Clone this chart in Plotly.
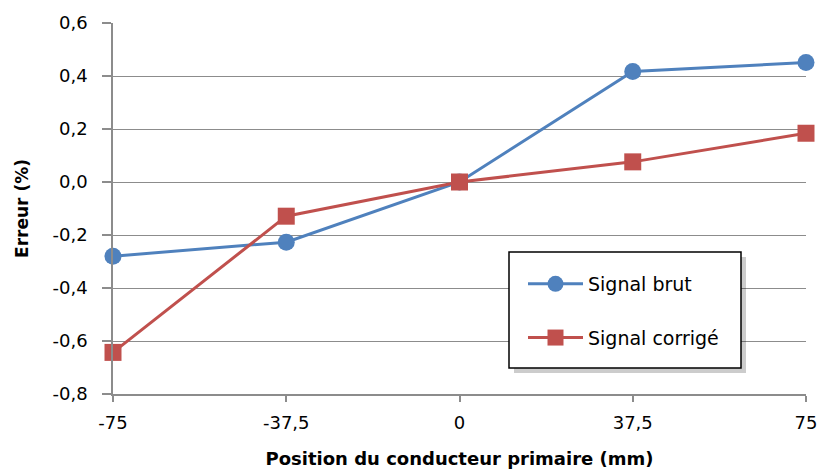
import plotly.graph_objects as go

positions = [-75, -37.5, 0, 37.5, 75]
x_tick_labels = ["-75", "-37,5", "0", "37,5", "75"]
signal_brut = [-0.28, -0.227, 0.0, 0.417, 0.451]
signal_corrige = [-0.643, -0.129, 0.0, 0.076, 0.184]
y_tick_vals = [-0.8, -0.6, -0.4, -0.2, 0.0, 0.2, 0.4, 0.6]
y_tick_labels = ["-0,8", "-0,6", "-0,4", "-0,2", "0,0", "0,2", "0,4", "0,6"]

FONT = "DejaVu Sans"
GRID = "#8C8C8C"

# plot area in page px: x 113..806, y 23..394 (body margin removed below)
PX0, PX1, PY0, PY1 = 113, 806, 23, 394


def px(sx):
    return (sx - PX0) / (PX1 - PX0)


def py(sy):
    return (PY1 - sy) / (PY1 - PY0)


fig = go.Figure()
fig.add_trace(go.Scatter(x=positions, y=signal_brut, mode="lines+markers", name="Signal brut",
                         line=dict(color="#4F81BD", width=3),
                         marker=dict(symbol="circle", size=17, color="#4F81BD"),
                         legendgroup="a", cliponaxis=False))
fig.add_trace(go.Scatter(x=positions, y=signal_corrige, mode="lines+markers", name="Signal corrigé",
                         line=dict(color="#C0504D", width=3),
                         marker=dict(symbol="square", size=17, color="#C0504D"),
                         legendgroup="b", cliponaxis=False))

# legend shadow and box
fig.add_shape(type="rect", xref="paper", yref="paper",
              x0=px(509 + 5), x1=px(741 + 5), y0=py(368 + 5), y1=py(252 + 5),
              fillcolor="rgba(0,0,0,0.2)", line=dict(width=0), layer="above")
fig.add_shape(type="rect", xref="paper", yref="paper",
              x0=px(509), x1=px(741), y0=py(368), y1=py(252),
              fillcolor="white", line=dict(color="#000000", width=1.5), layer="above")

fig.update_layout(
    width=819, height=470,
    margin=dict(l=PX0, r=819 - PX1, t=PY0, b=470 - PY1, autoexpand=False),
    paper_bgcolor="white", plot_bgcolor="white",
    font=dict(family=FONT, size=18, color="#000000"),
    showlegend=True,
    legend=dict(x=px(523), y=py(265), xanchor="left", yanchor="top",
                bgcolor="rgba(0,0,0,0)", borderwidth=0,
                font=dict(family=FONT, size=19), itemwidth=55, tracegroupgap=26,
                traceorder="grouped"),
)
fig.update_xaxes(range=[-75, 75], tickvals=positions, ticktext=x_tick_labels, automargin=False,
                 showgrid=False, zeroline=False, showline=True, linecolor=GRID, linewidth=1.5,
                 ticks="outside", ticklen=6, tickcolor=GRID, tickwidth=1.5,
                 title=dict(text="<b>Position du conducteur primaire (mm)</b>",
                            font=dict(family=FONT, size=18), standoff=20),
                 tickfont=dict(family=FONT, size=18), ticklabelstandoff=6)
fig.update_yaxes(range=[-0.8, 0.6], tickvals=y_tick_vals, ticktext=y_tick_labels, automargin=False,
                 showgrid=True, gridcolor=GRID, gridwidth=1.2, zeroline=False,
                 showline=True, linecolor=GRID, linewidth=1.5,
                 ticks="outside", ticklen=9, tickcolor=GRID, tickwidth=1.5,
                 title=dict(text="<b>Erreur (%)</b>", font=dict(family=FONT, size=17), standoff=20),
                 tickfont=dict(family=FONT, size=18), ticklabelstandoff=11)

fig.write_html("out.html", config={"displayModeBar": False},
               post_script="document.body.style.margin='0';document.body.style.overflow='hidden';")
